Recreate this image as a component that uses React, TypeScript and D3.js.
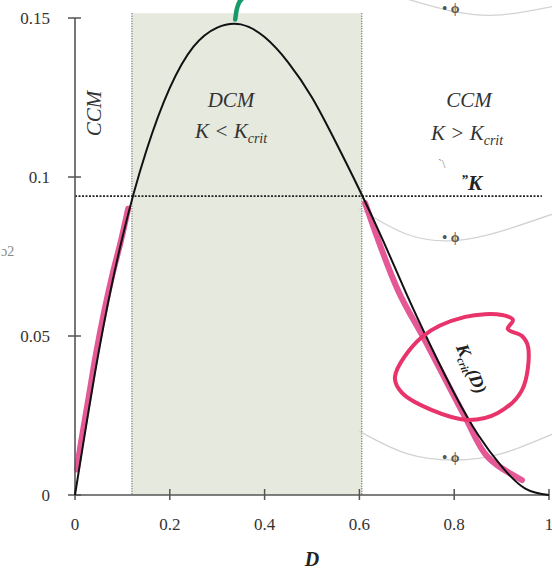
import React from 'react';
import * as d3 from 'd3';

// K_crit(D)
const dValues = [0, 0.05, 0.1, 0.15, 0.2, 0.25, 0.3, 0.35, 0.4, 0.45, 0.5, 0.55, 0.6, 0.65, 0.7, 0.75, 0.8, 0.85, 0.9, 0.95, 1];
const kCritValues = [0, 0.045, 0.081, 0.108, 0.128, 0.141, 0.147, 0.148, 0.144, 0.136, 0.125, 0.111, 0.096, 0.08, 0.063, 0.047, 0.032, 0.019, 0.009, 0.002, 0];

const kLevel = 0.094;
const dcmBounds = [0.12, 0.605];

const xTicks = [0, 0.2, 0.4, 0.6, 0.8, 1];
const xTickLabels = ['0', '0.2', '0.4', '0.6', '0.8', '1'];
const yTicks = [0, 0.05, 0.1, 0.15];
const yTickLabels = ['0', '0.05', '0.1', '0.15'];

// hand-drawn annotations on the scan (D, K)
const pinkLeftD = [0.004, 0.012, 0.028, 0.045, 0.062, 0.08, 0.097, 0.112];
const pinkLeftK = [0.008, 0.016, 0.03, 0.045, 0.058, 0.07, 0.08, 0.09];
const pinkRightD = [0.612, 0.681, 0.738, 0.823, 0.871, 0.943];
const pinkRightK = [0.0918, 0.0645, 0.0487, 0.0245, 0.0119, 0.0047];
const loopD = [0.675, 0.732, 0.823, 0.901, 0.924, 0.913, 0.943, 0.956, 0.943, 0.892, 0.829, 0.753, 0.69];
const loopK = [0.0371, 0.0497, 0.056, 0.0566, 0.055, 0.0522, 0.05, 0.0465, 0.033, 0.0258, 0.0236, 0.0267, 0.0321];
const greenD = [0.338, 0.341, 0.346, 0.352];
const greenK = [0.1495, 0.1525, 0.1548, 0.156];

// faint bleed-through curves from the other side of the page
const ghostCurves = [
  { d: [0.7, 0.8, 0.9, 1.02], k: [0.156, 0.152, 0.151, 0.154] },
  { d: [0.6, 0.7, 0.8, 0.9, 1.02], k: [0.09, 0.082, 0.08, 0.083, 0.089] },
  { d: [0.6, 0.7, 0.8, 0.9, 1.02], k: [0.02, 0.013, 0.011, 0.013, 0.02] },
];
const ghostMarkK = [0.153, 0.081, 0.012];

const serif = '"Liberation Serif", "DejaVu Serif", serif';

export default function App() {
  const width = 552;
  const height = 570;

  const x = d3.scaleLinear().domain([0, 1]).range([75, 549]);
  const y = d3.scaleLinear().domain([0, 0.15]).range([495, 18]);

  const line = d3.line<[number, number]>()
    .x(p => x(p[0]))
    .y(p => y(p[1]))
    .curve(d3.curveNatural);

  const stroke = d3.line<[number, number]>()
    .x(p => x(p[0]))
    .y(p => y(p[1]))
    .curve(d3.curveCatmullRom);

  const loop = d3.line<[number, number]>()
    .x(p => x(p[0]))
    .y(p => y(p[1]))
    .curve(d3.curveCatmullRomClosed);

  const zip = (a: number[], b: number[]) => a.map((v, i) => [v, b[i]] as [number, number]);

  const top = y(0.1515);
  const bottom = y(0);

  const kLabelPos = [x(0.825), y(0.039)];

  return (
    <svg width={width} height={height} style={{ position: 'absolute', left: 0, top: 0, background: '#fff' }}
         fontFamily={serif}>
      {/* shaded DCM band */}
      <rect x={x(dcmBounds[0])} y={top} width={x(dcmBounds[1]) - x(dcmBounds[0])} height={bottom - top}
            fill="#e5e9de" />
      {dcmBounds.map((d, i) =>
        <line key={i} x1={x(d)} x2={x(d)} y1={top} y2={bottom}
              stroke="#666" strokeWidth={1.3} strokeDasharray="1 1.5" />
      )}

      {ghostCurves.map((g, i) =>
        <path key={i} d={line(zip(g.d, g.k)) || ''} fill="none" stroke="#d2d2d2" strokeWidth={1.3} />
      )}
      {ghostMarkK.map((k, i) =>
        <text key={i} x={x(0.775)} y={y(k) + 5} fontSize={14} fontWeight="bold" fill="#555">{'• ϕ'}</text>
      )}

      {/* horizontal K level */}
      <line x1={x(0)} x2={x(0.985)} y1={y(kLevel)} y2={y(kLevel)}
            stroke="#222" strokeWidth={1.6} strokeDasharray="2 1.5" />

      {/* highlighter strokes */}
      <path d={stroke(zip(pinkLeftD, pinkLeftK)) || ''} fill="none" stroke="#e0468a" strokeWidth={6}
            strokeLinecap="round" opacity={0.9} />
      <path d={stroke(zip(pinkRightD, pinkRightK)) || ''} fill="none" stroke="#e0468a" strokeWidth={6}
            strokeLinecap="round" opacity={0.9} />

      {/* axes */}
      <line x1={x(0)} x2={x(0)} y1={y(0.15)} y2={bottom} stroke="#555" strokeWidth={1.6} />
      <line x1={x(0)} x2={x(1)} y1={bottom} y2={bottom} stroke="#555" strokeWidth={1.6} />
      {yTicks.map((t, i) =>
        <g key={i}>
          <line x1={x(0) - 7} x2={x(0) + 6} y1={y(t)} y2={y(t)} stroke="#555" strokeWidth={1.5} />
          <text x={50} y={y(t) + 6} textAnchor="end" fontSize={17} fill="#333">{yTickLabels[i]}</text>
        </g>
      )}
      {xTicks.map((t, i) =>
        <g key={i}>
          <line x1={x(t)} x2={x(t)} y1={bottom - 6} y2={bottom + 5} stroke="#555" strokeWidth={1.5} />
          <text x={x(t)} y={bottom + 35} textAnchor="middle" fontSize={17} fill="#333">{xTickLabels[i]}</text>
        </g>
      )}
      <text x={1} y={256} fontSize={14} fill="#888">{'ɔ2'}</text>
      <text x={312} y={566} textAnchor="middle" fontSize={20} fontWeight="bold" fontStyle="italic" fill="#222">D</text>

      {/* K_crit curve */}
      <path d={line(zip(dValues, kCritValues)) || ''} fill="none" stroke="#111" strokeWidth={2} />

      {/* pen marks */}
      <path d={loop(zip(loopD, loopK)) || ''} fill="none" stroke="#e8336b" strokeWidth={4} />
      <path d={line(zip(greenD, greenK)) || ''}
            fill="none" stroke="#159a68" strokeWidth={4.5} strokeLinecap="round" />

      {/* region labels */}
      <text transform={`translate(${x(0.055)},${y(0.12)}) rotate(-90)`} textAnchor="middle" fontSize={21}
            fontStyle="italic" fill="#333">CCM</text>
      <text x={231} y={107} textAnchor="middle" fontSize={21} fontStyle="italic" fill="#333">DCM</text>
      <text x={195} y={138} fontSize={21} fontStyle="italic" fill="#333">
        {'K < K'}<tspan fontSize={14} dy={5}>crit</tspan>
      </text>
      <text x={469} y={107} textAnchor="middle" fontSize={21} fontStyle="italic" fill="#333">CCM</text>
      <text x={431} y={140} fontSize={21} fontStyle="italic" fill="#333">
        {'K > K'}<tspan fontSize={14} dy={5}>crit</tspan>
      </text>
      <text x={438} y={168} fontSize={12} fill="#888">{'`\\'}</text>
      <text x={461} y={190} fontSize={21} fontWeight="bold" fontStyle="italic" fill="#222">
        <tspan fontSize={14} dy={-5}>{'\u201D'}</tspan><tspan dy={5}>K</tspan>
      </text>
      <text transform={`translate(${kLabelPos[0]},${kLabelPos[1]}) rotate(67)`} textAnchor="middle" fontSize={18}
            fontWeight="bold" fontStyle="italic" fill="#222">
        {'K'}<tspan fontSize={11} dy={4}>crit</tspan><tspan dy={-4}>(D)</tspan>
      </text>
    </svg>
  );
}
